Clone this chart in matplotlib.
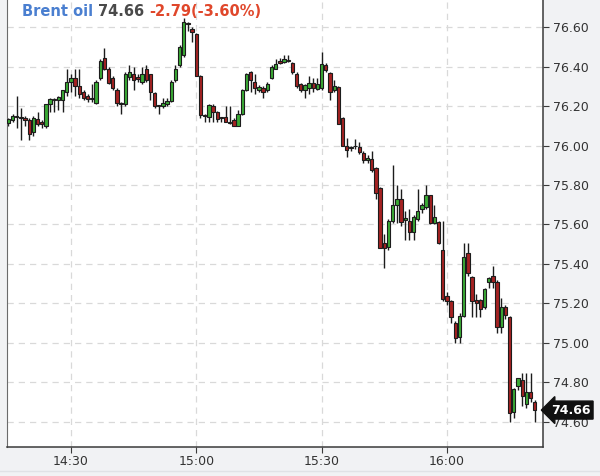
import matplotlib
matplotlib.use("Agg")
import matplotlib.pyplot as plt
import matplotlib.dates as mdates
import matplotlib.transforms as mtransforms
from matplotlib.lines import Line2D
import numpy as np
import pandas as pd

# one-minute candles, 14:15 .. 16:21
DAY = "2024-01-01"
START = "14:15"
X_RANGE = ("14:14:41", "16:22:59")

opens = [
    76.115, 76.13, 76.15, 76.145, 76.14, 76.13, 76.07, 76.135, 76.12, 76.10,
    76.21, 76.235, 76.23, 76.23, 76.27, 76.32, 76.34, 76.30, 76.27, 76.25,
    76.24, 76.215, 76.34, 76.445, 76.39, 76.34, 76.28, 76.215, 76.21,
    76.345, 76.36, 76.345, 76.32, 76.385, 76.36, 76.265, 76.20, 76.20, 76.21,
    76.225, 76.33, 76.41, 76.46, 76.62, 76.59, 76.565, 76.35, 76.155, 76.145,
    76.20, 76.17, 76.14, 76.145, 76.115, 76.13, 76.10, 76.16, 76.28, 76.37,
    76.32, 76.28, 76.29, 76.28, 76.34, 76.39, 76.43, 76.425, 76.435, 76.42,
    76.36, 76.31, 76.28, 76.29, 76.315, 76.285, 76.29, 76.41, 76.365, 76.28,
    76.295, 76.14, 75.998, 75.99, 75.995, 75.99, 75.96, 75.925, 75.93, 75.885,
    75.785, 75.505, 75.485, 75.62, 75.70, 75.73, 75.625, 75.62, 75.56, 75.63,
    75.68, 75.69, 75.75, 75.61, 75.615, 75.47, 75.24, 75.21, 75.10, 75.03,
    75.135, 75.455, 75.335, 75.22, 75.22, 75.18, 75.31, 75.34, 75.31, 75.08,
    75.18, 75.13, 74.65, 74.78, 74.81, 74.69, 74.75, 74.70,
]
highs = [
    76.14, 76.16, 76.25, 76.19, 76.15, 76.14, 76.15, 76.17, 76.13, 76.21,
    76.24, 76.24, 76.25, 76.28, 76.39, 76.36, 76.39, 76.39, 76.28, 76.26,
    76.31, 76.33, 76.44, 76.495, 76.40, 76.35, 76.29, 76.22, 76.37,
    76.41, 76.40, 76.36, 76.40, 76.41, 76.36, 76.27, 76.205, 76.24, 76.24,
    76.33, 76.41, 76.51, 76.645, 76.625, 76.60, 76.57, 76.355, 76.16, 76.21,
    76.21, 76.175, 76.145, 76.20, 76.20, 76.14, 76.18, 76.285, 76.365, 76.375,
    76.36, 76.305, 76.30, 76.32, 76.41, 76.44, 76.445, 76.46, 76.46, 76.425,
    76.37, 76.315, 76.31, 76.35, 76.34, 76.34, 76.475, 76.42, 76.37, 76.33,
    76.30, 76.145, 76.04, 76.00, 76.035, 76.02, 75.97, 75.95, 75.97, 75.89,
    75.79, 75.55, 75.63, 75.90, 75.80, 75.78, 75.67, 75.68, 75.65, 75.78,
    75.71, 75.80, 75.75, 75.70, 75.62, 75.62, 75.26, 75.22, 75.11, 75.15,
    75.505, 75.505, 75.34, 75.25, 75.225, 75.28, 75.335, 75.39, 75.32, 75.23,
    75.19, 75.135, 74.77, 74.825, 74.85, 74.85, 74.85, 74.71,
]
lows = [
    76.10, 76.12, 76.09, 76.03, 76.10, 76.03, 76.05, 76.10, 76.09, 76.09,
    76.17, 76.17, 76.18, 76.17, 76.25, 76.27, 76.25, 76.24, 76.23, 76.22,
    76.22, 76.21, 76.33, 76.38, 76.31, 76.28, 76.20, 76.16, 76.20,
    76.33, 76.28, 76.32, 76.31, 76.32, 76.23, 76.19, 76.16, 76.19, 76.20,
    76.22, 76.32, 76.40, 76.45, 76.58, 76.525, 76.35, 76.14, 76.12, 76.12,
    76.12, 76.12, 76.12, 76.12, 76.11, 76.10, 76.10, 76.155, 76.275, 76.27,
    76.26, 76.27, 76.24, 76.27, 76.335, 76.385, 76.415, 76.42, 76.425, 76.36,
    76.29, 76.27, 76.24, 76.26, 76.27, 76.28, 76.28, 76.37, 76.23, 76.27,
    76.11, 75.995, 75.94, 75.97, 75.98, 75.955, 75.91, 75.91, 75.865, 75.73,
    75.48, 75.38, 75.47, 75.61, 75.61, 75.59, 75.52, 75.52, 75.52, 75.62,
    75.66, 75.68, 75.60, 75.60, 75.50, 75.215, 75.19, 75.10, 75.00, 75.00,
    75.13, 75.34, 75.13, 75.13, 75.13, 75.17, 75.28, 75.28, 75.05, 75.05,
    75.12, 74.60, 74.62, 74.76, 74.68, 74.67, 74.70, 74.60,
]
closes = [
    76.135, 76.15, 76.145, 76.14, 76.13, 76.06, 76.14, 76.11, 76.11, 76.21,
    76.235, 76.23, 76.245, 76.28, 76.32, 76.34, 76.30, 76.26, 76.24, 76.235,
    76.235, 76.32, 76.43, 76.39, 76.315, 76.29, 76.213, 76.21, 76.36,
    76.37, 76.33, 76.335, 76.36, 76.33, 76.27, 76.20, 76.198, 76.215, 76.225,
    76.32, 76.385, 76.50, 76.625, 76.615, 76.575, 76.35, 76.155, 76.15, 76.205,
    76.17, 76.135, 76.138, 76.12, 76.118, 76.10, 76.16, 76.28, 76.36, 76.33,
    76.29, 76.295, 76.27, 76.31, 76.40, 76.415, 76.42, 76.44, 76.43, 76.37,
    76.30, 76.28, 76.305, 76.315, 76.29, 76.31, 76.415, 76.38, 76.27, 76.30,
    76.11, 75.998, 75.975, 75.988, 76.00, 75.965, 75.925, 75.935, 75.875, 75.76,
    75.48, 75.48, 75.62, 75.70, 75.73, 75.615, 75.635, 75.56, 75.64, 75.67,
    75.70, 75.75, 75.61, 75.64, 75.505, 75.225, 75.21, 75.13, 75.025, 75.135,
    75.435, 75.355, 75.21, 75.20, 75.17, 75.275, 75.33, 75.31, 75.08, 75.18,
    75.14, 74.645, 74.765, 74.82, 74.73, 74.75, 74.72, 74.66,
]

last_price = 74.66
change = "-2.79(-3.60%)"
y_ticks = [74.6, 74.8, 75.0, 75.2, 75.4, 75.6, 75.8, 76.0, 76.2, 76.4, 76.6]
x_ticks = ["14:30", "15:00", "15:30", "16:00"]

UP = "#3aaa35"
DOWN = "#a52222"
EDGE = "#1c1c1c"
BG = "#f1f2f4"
GRID = "#d9d9d9"


def to_num(times):
    return mdates.date2num(pd.to_datetime([f"{DAY} {s}" for s in times]))


o = np.array(opens)
h = np.array(highs)
l = np.array(lows)
c = np.array(closes)
t = mdates.date2num(pd.date_range(f"{DAY} {START}", periods=len(o), freq="min"))
minute = 1.0 / 1440

fig = plt.figure(figsize=(6, 4.76), dpi=100, facecolor=BG)
ax = fig.add_axes([7 / 600, 1 - 447 / 476, 536 / 600, 447 / 476])
ax.set_facecolor("white")

ax.vlines(t, l, h, color=EDGE, linewidth=1.0, zorder=2)
up = c >= o
body_lo = np.minimum(o, c)
body_h = np.maximum(np.abs(c - o), 0.005)
ax.bar(t[up], body_h[up], bottom=body_lo[up], width=0.8 * minute,
       color=UP, edgecolor=EDGE, linewidth=0.8, zorder=3)
ax.bar(t[~up], body_h[~up], bottom=body_lo[~up], width=0.8 * minute,
       color=DOWN, edgecolor=EDGE, linewidth=0.8, zorder=3)

ax.set_xticks(to_num(x_ticks), x_ticks)
ax.set_xlim(*to_num(X_RANGE))
ax.set_ylim(74.473, 76.737)
ax.set_yticks(y_ticks, [f"{v:.2f}" for v in y_ticks])
ax.yaxis.tick_right()

ax.grid(True, color=GRID, linestyle=(0, (5, 4)), linewidth=0.9)
ax.set_axisbelow(True)
ax.spines["top"].set_visible(False)
ax.spines["left"].set_color("#6b6b6b")
for s in ("right", "bottom"):
    ax.spines[s].set_color("#3a3a3a")
    ax.spines[s].set_linewidth(1.1)
ax.tick_params(axis="y", colors="#3a3a3a", labelcolor="#333333", labelsize=9,
               length=4, pad=3, direction="out")
ax.tick_params(axis="x", colors="#3a3a3a", labelcolor="#333333", labelsize=9,
               length=4, pad=2, direction="out")

# last price marker on the right axis
trans = mtransforms.blended_transform_factory(ax.transAxes, ax.transData)
ax.text(1.015, last_price, f"{last_price:.2f}", transform=trans, ha="left",
        va="center", color="white", fontsize=9, weight="bold", zorder=5,
        bbox=dict(boxstyle="larrow,pad=0.2", fc="#111111", ec="#111111"),
        clip_on=False)

# header
t1 = fig.text(22 / 600, 1 - 11 / 476, "Brent oil ", color="#4a7fd0",
              fontsize=10.5, weight="bold", va="center")
t2 = ax.annotate(f"{last_price:.2f} ", xy=(1, 0), xycoords=t1, va="bottom",
                 color="#4a4a4a", fontsize=10.5, weight="bold")
ax.annotate(change, xy=(1, 0), xycoords=t2, va="bottom",
            color="#e0472b", fontsize=10.5, weight="bold")

fig.add_artist(Line2D([0, 1], [1 - 471 / 476] * 2, color="#e0e2e6", linewidth=1))

fig.savefig("out.png", dpi=100, facecolor=BG)
